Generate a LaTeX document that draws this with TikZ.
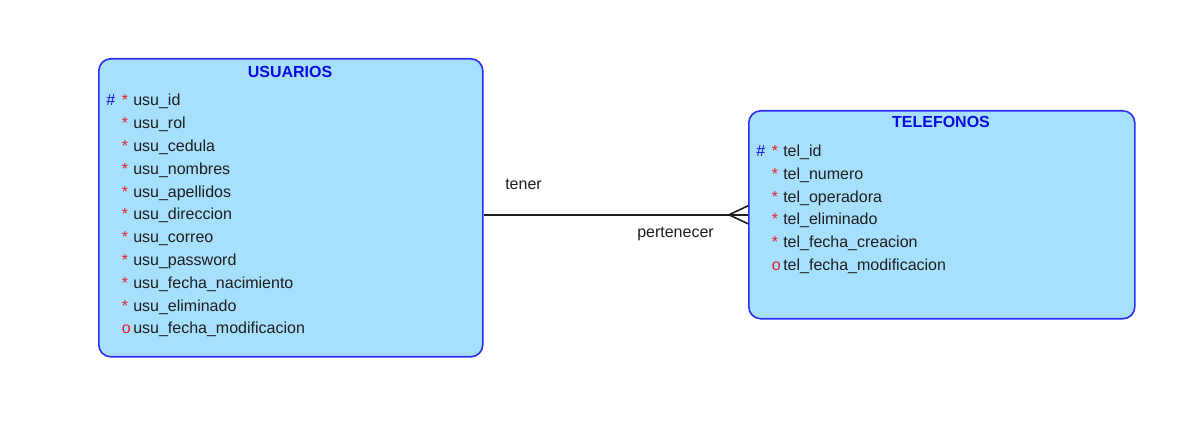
\documentclass[tikz,border=0pt]{standalone}
\usepackage{fontspec}
\setmainfont{Liberation Sans}
\usepackage{xcolor}
\usetikzlibrary{calc}

\definecolor{entfill}{RGB}{166,224,253}
\definecolor{entdraw}{RGB}{45,45,245}
\definecolor{enttitle}{RGB}{10,10,225}
\definecolor{attrtext}{RGB}{30,30,30}
\definecolor{flagred}{RGB}{230,30,40}

\begin{document}
\begin{tikzpicture}[x=0.75pt, y=-0.75pt, font=\fontsize{12}{14}\selectfont,
    entity/.style={draw=entdraw, fill=entfill, line width=1.2pt, rounded corners=9pt,
                   inner sep=0pt, anchor=north west},
    title/.style={font=\fontsize{12}{14}\selectfont\bfseries, text=enttitle, anchor=base},
    attr/.style={text=attrtext, anchor=base west, inner sep=0pt},
    flag/.style={text=flagred, anchor=base west, inner sep=0pt},
    pk/.style={text=enttitle, anchor=base west, inner sep=0pt},
    rel/.style={draw=attrtext, line width=1.2pt}]
  \useasboundingbox (0,0) rectangle (1199,441);
  \def\dy{22.8}

  % entidad USUARIOS
  \node[entity, minimum width=288pt, minimum height=223.5pt] (usuarios) at (98,58) {};
  \node[title] (usuarios-t) at (290,77.5) {USUARIOS};
  \node[pk] (usuarios-pk) at (106,106) {\#};
  \foreach \f/\campo [count=\i from 0] in {*/usu\_id, */usu\_rol, */usu\_cedula,
      */usu\_nombres, */usu\_apellidos, */usu\_direccion, */usu\_correo,
      */usu\_password, */usu\_fecha\_nacimiento, */usu\_eliminado,
      o/usu\_fecha\_modificacion}{
    \node[flag] (usu-f\i) at (121.5,106+\dy*\i) {\f};
    \node[attr] (usu-\i) at (133,106+\dy*\i) {\campo};
  }

  % entidad TELEFONOS
  \node[entity, minimum width=289.5pt, minimum height=156pt] (telefonos) at (748,110) {};
  \node[title] (telefonos-t) at (941,127.5) {TELEFONOS};
  \node[pk] (telefonos-pk) at (756,156.5) {\#};
  \foreach \f/\campo [count=\i from 0] in {*/tel\_id, */tel\_numero, */tel\_operadora,
      */tel\_eliminado, */tel\_fecha\_creacion, o/tel\_fecha\_modificacion}{
    \node[flag] (tel-f\i) at (771.5,156.5+\dy*\i) {\f};
    \node[attr] (tel-\i) at (783,156.5+\dy*\i) {\campo};
  }

  % relacion (uno a muchos)
  \draw[rel] (usuarios.east |- telefonos.west) -- (telefonos.west);
  \coordinate (pata) at ($(telefonos.west)+(-19,0)$);
  \draw[rel] ($(telefonos.west)+(0,-9)$) -- (pata) -- ($(telefonos.west)+(0,9)$);
  \node[attr] (tener) at (505,189.5) {tener};
  \node[attr] (pertenecer) at (637,237.5) {pertenecer};
\end{tikzpicture}
\end{document}
